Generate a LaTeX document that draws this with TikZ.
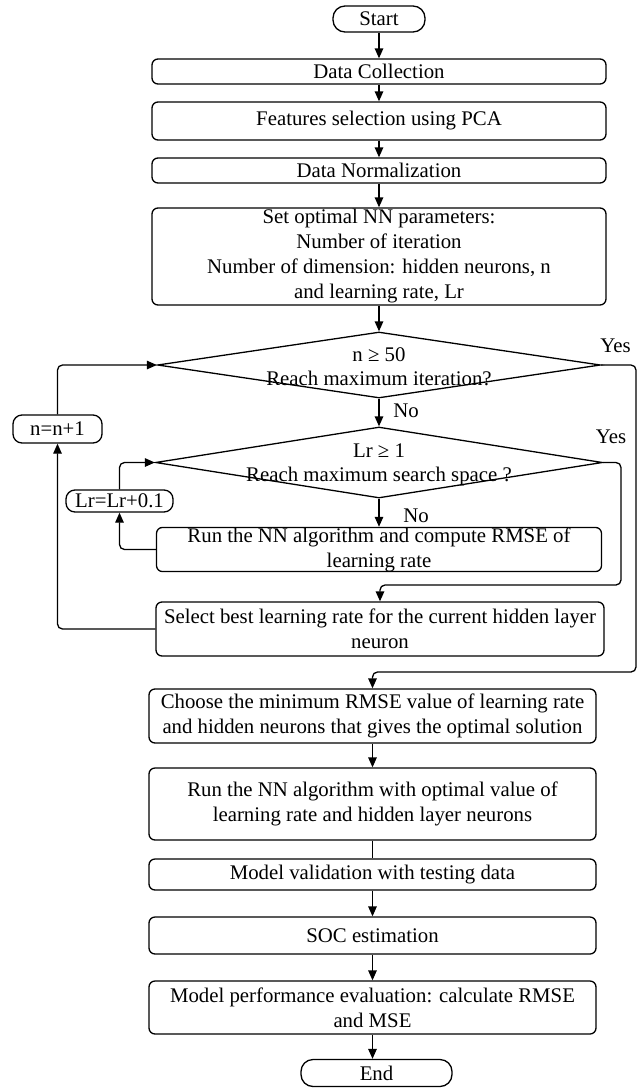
\documentclass[tikz,border=0pt]{standalone}
\usepackage{fontspec}
\setmainfont{Liberation Serif}
\usetikzlibrary{arrows.meta,shapes.geometric}
\begin{document}
\begin{tikzpicture}[x=1pt,y=-1pt,
  font=\fontsize{20.8}{25}\selectfont,
  box/.style={draw,line width=1.3pt,rounded corners=6pt,inner sep=0pt,align=center},
  term/.style={draw,line width=1.3pt,rounded corners=12pt,inner sep=0pt},
  decision/.style={draw,line width=1.3pt,diamond,inner sep=0pt},
  dtext/.style={inner sep=0pt,align=center,font=\fontsize{20.8}{24}\selectfont},
  lbl/.style={inner sep=0pt},
  arr/.style={line width=1.3pt,rounded corners=5pt,-{Triangle[length=10pt,width=8.5pt]}},
  ln/.style={line width=1.3pt},
]
\useasboundingbox (0,0) rectangle (643,1088);

\node[term,minimum width=92,minimum height=26] (start) at (379,19) {Start};
\node[box,minimum width=454,minimum height=25] (dc) at (379,71.5) {Data Collection};
\node[box,minimum width=454,minimum height=38] (fs) at (379,121) {Features selection using PCA};
\node[box,minimum width=454,minimum height=25] (dn) at (379,170.5) {Data Normalization};
\node[box,minimum width=454,minimum height=97] (set) at (379,256.5) {Set optimal NN parameters:\\Number of iteration\\Number of dimension: hidden neurons, n\\and learning rate, Lr};

\node[decision,minimum width=443,minimum height=66] (d1) at (379,365) {};
\node[dtext] (d1t) at (379,367) {n ≥ 50\\Reach maximum iteration?};

\node[decision,minimum width=447,minimum height=71] (d2) at (379,462.5) {};
\node[dtext] (d2t) at (379,465) {Lr ≥ 1\\Reach maximum search space ?};

\node[box,minimum width=445,minimum height=43] (run) at (379,549.5) {Run the NN algorithm and compute RMSE of\\learning rate};
\node[box,minimum width=448,minimum height=54] (sel) at (380,629) {Select best learning rate for the current hidden layer\\neuron};

\node[box,rounded corners=9pt,minimum width=89,minimum height=28] (ninc) at (57.5,429) {n=n+1};
\node[box,rounded corners=9pt,minimum width=107,minimum height=22] (lrinc) at (119.5,501) {Lr=Lr+0.1};

\node[box,minimum width=447,minimum height=54] (cho) at (372.5,716) {Choose the minimum RMSE value of learning rate\\and hidden neurons that gives the optimal solution};
\node[box,minimum width=447,minimum height=72] (runopt) at (372.5,804) {Run the NN algorithm with optimal value of\\learning rate and hidden layer neurons};
\node[box,minimum width=447,minimum height=31] (val) at (372.5,874.5) {Model validation with testing data};
\node[box,minimum width=447,minimum height=37] (soc) at (372.5,935.5) {SOC estimation};
\node[box,minimum width=447,minimum height=53] (perf) at (372.5,1007.5) {Model performance evaluation: calculate RMSE\\and MSE};
\node[term,minimum width=151,minimum height=27] (end) at (376.5,1073) {End};

\node[lbl] (yes1) at (615.5,346) {Yes};
\node[lbl] (yes2) at (611,437) {Yes};
\node[lbl] (no1) at (406,411) {No};
\node[lbl] (no2) at (416,516) {No};

\coordinate (y1) at (636,672);
\coordinate (y2) at (621,585);

\draw[arr] (start) -- (dc);
\draw[arr] (dc) -- (fs);
\draw[arr] (fs) -- (dn);
\draw[arr] (dn) -- (set);
\draw[arr] (set) -- (d1.north);
\draw[arr] (d1.south) -- (d2.north);
\draw[arr] (d2.south) -- (d2.south |- run.north);

\draw[arr] (run.west) -| (lrinc.south);
\draw[arr] (lrinc.north) |- (d2.west);
\draw[arr] (sel.west) -| (ninc.south);
\draw[arr] (ninc.north) |- (d1.west);

\draw[arr] (d1.east) -| (y1) -| (cho.north);
\draw[arr] (d2.east) -| (y2) -| (sel.north);

\draw[arr] (cho) -- (runopt);
\draw[ln] (runopt) -- (val);
\draw[arr] (val) -- (soc);
\draw[arr] (soc) -- (perf);
\draw[arr] (perf.south) -- (perf.south |- end.north);
\end{tikzpicture}
\end{document}
